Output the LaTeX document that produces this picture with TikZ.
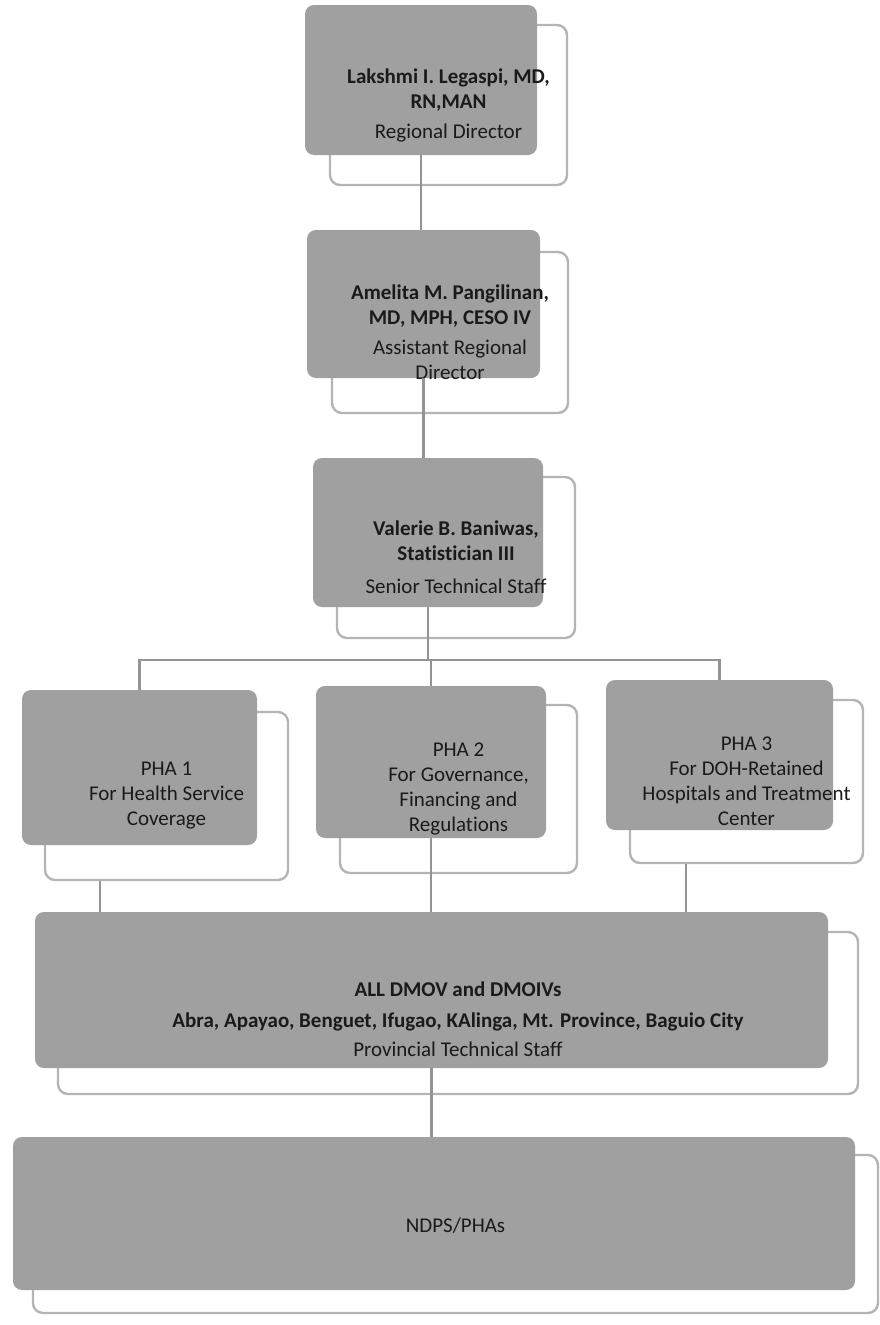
\documentclass[tikz,border=0pt]{standalone}
\usepackage{fontspec}
\setmainfont{Carlito}[Ligatures=NoCommon]
\usepackage{tikz}
\usetikzlibrary{positioning}

\definecolor{tilegray}{HTML}{A0A0A0}
\definecolor{framegray}{HTML}{B4B4B4}
\definecolor{linegray}{HTML}{949494}
\definecolor{inkgray}{HTML}{1A1A1A}

\begin{document}
\begin{tikzpicture}[x=1pt,y=-1pt,
  tile/.style={fill=tilegray,rounded corners=9pt,inner sep=0pt},
  frame/.style={draw=framegray,line width=2.4pt,rounded corners=10pt,inner sep=0pt},
  txt/.style={align=center,text=inkgray,font=\fontsize{21}{25}\selectfont},
  conn/.style={draw=linegray,line width=2.4pt}]
  \useasboundingbox (0,0) rectangle (880,1325);
  % director
  \node[frame,minimum width=237pt,minimum height=160pt] (rdfr) at (448.5,105) {};
  \node[tile,minimum width=232pt,minimum height=150pt] (rd) at (421,80) {};
  \node[txt] (rdtxt) at (rdfr.center) {\textbf{Lakshmi I. Legaspi, MD,}\\\textbf{RN,MAN}\\[5pt]Regional Director};
  % assistant director
  \node[frame,minimum width=236pt,minimum height=161pt] (ardfr) at (450,332.5) {};
  \node[tile,minimum width=233pt,minimum height=148pt] (ard) at (423.5,304) {};
  \node[txt] (ardtxt) at (ardfr.center) {\textbf{Amelita M. Pangilinan,}\\\textbf{MD, MPH, CESO IV}\\[5pt]Assistant Regional\\Director};
  % senior staff
  \node[frame,minimum width=238pt,minimum height=161pt] (stsfr) at (456,557.5) {};
  \node[tile,minimum width=230pt,minimum height=149pt] (sts) at (428,532.5) {};
  \node[txt] (ststxt) at (stsfr.center) {\textbf{Valerie B. Baniwas,}\\\textbf{Statistician III}\\[8pt]Senior Technical Staff};
  % PHAs
  \node[frame,minimum width=243pt,minimum height=168pt] (phaonefr) at (166.5,796) {};
  \node[tile,minimum width=235pt,minimum height=155pt] (phaone) at (139.5,767.5) {};
  \node[txt] (phaonetxt) at (phaonefr.center) {PHA 1\\For Health Service\\Coverage};
  \node[frame,minimum width=237pt,minimum height=168pt] (phatwofr) at (458.5,789) {};
  \node[tile,minimum width=230pt,minimum height=152pt] (phatwo) at (431,762) {};
  \node[txt] (phatwotxt) at (phatwofr.center) {PHA 2\\For Governance,\\Financing and\\Regulations};
  \node[frame,minimum width=233pt,minimum height=163pt] (phathreefr) at (746.5,781.5) {};
  \node[tile,minimum width=227pt,minimum height=150pt] (phathree) at (719.5,755) {};
  \node[txt] (phathreetxt) at (phathreefr.center) {PHA 3\\For DOH-Retained\\Hospitals and Treatment\\Center};
  % provincial staff
  \node[frame,minimum width=800pt,minimum height=162pt] (dmofr) at (458,1013) {};
  \node[tile,minimum width=793pt,minimum height=156pt] (dmo) at (431.5,990) {};
  \node[txt] (dmotxt) at ([yshift=-6pt]dmofr.center) {\textbf{ALL DMOV and DMOIVs}\\[6pt]\textbf{Abra, Apayao, Benguet, Ifugao, KAlinga, Mt. Province, Baguio City}\\[4pt]Provincial Technical Staff};
  \node[frame,minimum width=845pt,minimum height=158pt] (ndpsfr) at (455.5,1234) {};
  \node[tile,minimum width=842pt,minimum height=153pt] (ndps) at (434,1213.5) {};
  \node[txt] (ndpstxt) at ([yshift=8pt]ndpsfr.center) {NDPS/PHAs};
  % connectors
  \coordinate (bus) at (428,660);
  \draw[conn] (rd.south) -- (rd.south |- ard.north);
  \draw[conn] (ard.south) -- (ard.south |- sts.north);
  \draw[conn] (sts.south) -- (bus);
  \draw[conn] (phaone.north) -- (phaone.north |- bus) -- (phathree.north |- bus) -- (phathree.north);
  \draw[conn] (phatwo.north) -- (phatwo.north |- bus);
  \draw[conn] ([xshift=-66.5pt]phaonefr.south) -- ([xshift=-66.5pt]phaonefr.south |- dmo.north);
  \draw[conn] (phatwo.south) -- (phatwo.south |- dmo.north);
  \draw[conn] ([xshift=-60.5pt]phathreefr.south) -- ([xshift=-60.5pt]phathreefr.south |- dmo.north);
  \draw[conn] (dmo.south) -- (dmo.south |- ndps.north);
\end{tikzpicture}
\end{document}
